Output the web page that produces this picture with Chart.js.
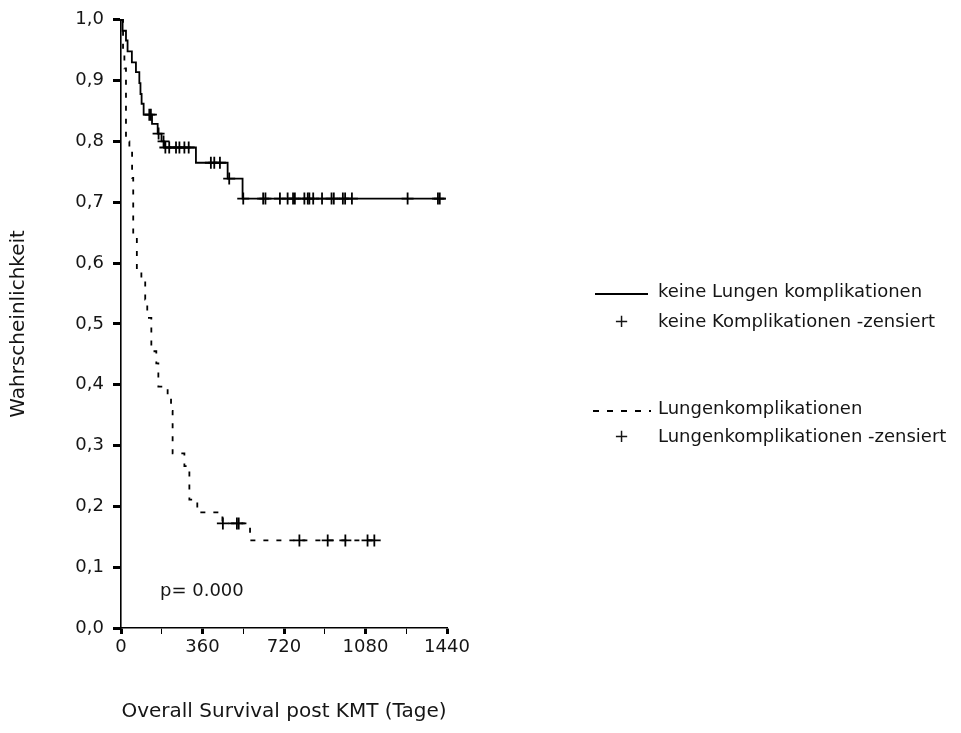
<!DOCTYPE html>
<html>
<head>
<meta charset="utf-8">
<title>Overall Survival post KMT</title>
<script src="https://cdn.jsdelivr.net/npm/chart.js@4.4.1/dist/chart.umd.min.js"></script>
<style>
  html, body { margin: 0; padding: 0; background: #fff; }
  #wrap { position: relative; width: 961px; height: 733px; overflow: hidden; }
  #chart { position: absolute; left: 0; top: 0; }
  .txt {
    position: absolute;
    font-family: "DejaVu Sans", sans-serif;
    font-size: 18px;
    color: #151515;
    white-space: nowrap;
    line-height: 20px;
    transform: translateY(-50%);
  }
  .sample { position: absolute; height: 1.8px; }
  .solid { background: #000; }
  .dashed { background: repeating-linear-gradient(90deg, #000 0 6px, transparent 6px 14px); }
</style>
</head>
<body>
<div id="wrap">
  <canvas id="chart" width="961" height="733"></canvas>
  <div id="overlay"></div>
</div>
<script>
// keine Lungenkomplikationen: event times (days) and survival after each step
const noTimes = [0, 7, 22, 29, 48, 66, 81, 86, 91, 100, 137, 162, 179, 191, 331, 471, 537, 1435];
const noSurv = [1.0, 0.982, 0.966, 0.948, 0.930, 0.914, 0.896, 0.878, 0.862, 0.844, 0.829, 0.813, 0.800, 0.790, 0.765, 0.739, 0.706, 0.706];
const noCensor = [125, 132, 166, 188, 196, 213, 243, 258, 280, 299, 397, 412, 437, 478, 540, 628, 638, 702, 736, 760, 768, 810, 825, 832, 849, 888, 930, 940, 980, 990, 1020, 1266, 1400, 1408];

// Lungenkomplikationen
const lungTimes = [0, 9, 15, 22, 37, 49, 54, 70, 90, 107, 116, 134, 156, 165, 206, 221, 228, 280, 302, 337, 448, 570, 1148];
const lungSurv = [1.0, 0.95, 0.92, 0.80, 0.785, 0.74, 0.645, 0.585, 0.57, 0.54, 0.51, 0.455, 0.435, 0.397, 0.378, 0.357, 0.287, 0.266, 0.211, 0.19, 0.172, 0.144, 0.144];
const lungCensor = [450, 512, 520, 788, 913, 991, 1089, 1119];

const xLabelTicks = [0, 360, 720, 1080, 1440];
const legendLabels = [
  "keine Lungen komplikationen",
  "keine Komplikationen -zensiert",
  "Lungenkomplikationen",
  "Lungenkomplikationen -zensiert"
];
const pText = "p= 0.000";

const FONT = "'DejaVu Sans', sans-serif";

// value of the step curve at time t
function survivalAt(times, surv, t) {
  let s = surv[0];
  for (let i = 0; i < times.length; i++) {
    if (times[i] <= t) s = surv[i];
  }
  return s;
}

function toPoints(xs, ys) {
  return xs.map((x, i) => ({ x: x, y: ys[i] }));
}

function censorPoints(times, surv, cens) {
  return cens.map((t) => ({ x: t, y: survivalAt(times, surv, t) }));
}

const curveBase = {
  stepped: "before",
  borderColor: "#000",
  borderWidth: 1.8,
  pointRadius: 0,
  fill: false,
  clip: false
};

const crossBase = {
  showLine: false,
  pointStyle: "cross",
  pointRadius: 6,
  pointBorderWidth: 1.8,
  pointBorderColor: "#000",
  borderColor: "#000",
  clip: false
};

const ctx = document.getElementById("chart").getContext("2d");
new Chart(ctx, {
  type: "line",
  data: {
    datasets: [
      Object.assign({ label: legendLabels[0], data: toPoints(noTimes, noSurv) }, curveBase),
      Object.assign({ label: legendLabels[1], data: censorPoints(noTimes, noSurv, noCensor) }, crossBase),
      Object.assign({ label: legendLabels[2], data: toPoints(lungTimes, lungSurv), borderDash: [5, 8] }, curveBase),
      Object.assign({ label: legendLabels[3], data: censorPoints(lungTimes, lungSurv, lungCensor) }, crossBase)
    ]
  },
  options: {
    responsive: false,
    animation: false,
    layout: { padding: { top: 19, right: 514, left: 0, bottom: 0 } },
    plugins: {
      legend: { display: false },
      tooltip: { enabled: false }
    },
    scales: {
      x: {
        type: "linear",
        min: 0,
        max: 1440,
        afterFit: (s) => { s.height = 105; },
        border: { display: true, color: "#000", width: 1.6 },
        grid: {
          drawOnChartArea: false,
          drawTicks: true,
          tickLength: 6,
          tickColor: "#000",
          tickWidth: (c) => (c.tick && xLabelTicks.includes(c.tick.value) ? 3 : 1)
        },
        ticks: {
          stepSize: 180,
          autoSkip: false,
          maxRotation: 0,
          padding: 3,
          color: "#151515",
          font: { family: FONT, size: 18 },
          callback: (v) => (xLabelTicks.includes(v) ? String(v) : "")
        },
        title: {
          display: true,
          text: "Overall Survival post KMT (Tage)",
          color: "#151515",
          font: { family: FONT, size: 20 },
          padding: { top: 0, bottom: 9 }
        }
      },
      y: {
        min: 0,
        max: 1,
        afterFit: (s) => { s.width = 121; },
        border: { display: true, color: "#000", width: 1.6 },
        grid: {
          drawOnChartArea: false,
          drawTicks: true,
          tickLength: 8,
          tickColor: "#000",
          tickWidth: 3
        },
        ticks: {
          stepSize: 0.1,
          padding: 9,
          color: "#151515",
          font: { family: FONT, size: 18 },
          callback: (v) => v.toFixed(1).replace(".", ",")
        },
        title: {
          display: true,
          text: "Wahrscheinlichkeit",
          color: "#151515",
          font: { family: FONT, size: 20 },
          padding: { top: 7, bottom: 0 }
        }
      }
    }
  }
});

// legend and p value as html text next to the plot
const overlay = document.getElementById("overlay");
function addText(str, left, y) {
  const d = document.createElement("div");
  d.className = "txt";
  d.style.left = left + "px";
  d.style.top = y + "px";
  d.textContent = str;
  overlay.appendChild(d);
  return d;
}
function addSample(cls, left, width, y) {
  const d = document.createElement("div");
  d.className = "sample " + cls;
  d.style.left = left + "px";
  d.style.width = width + "px";
  d.style.top = y + "px";
  overlay.appendChild(d);
}

const rows = [291, 321, 408, 436];
addSample("solid", 595, 53, rows[0] + 2);
addText("+", 614, rows[1]);
addSample("dashed", 593, 58, rows[2] + 2);
addText("+", 614, rows[3]);
legendLabels.forEach((lab, i) => addText(lab, 658, rows[i]));
addText(pText, 160, 590);
</script>
</body>
</html>
